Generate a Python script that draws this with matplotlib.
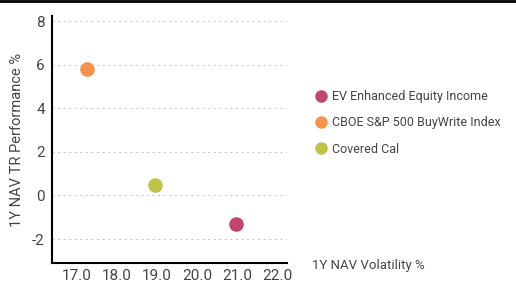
import matplotlib
matplotlib.use('Agg')
import matplotlib.pyplot as plt
from matplotlib.lines import Line2D

names = ['EV Enhanced Equity Income', 'CBOE S&P 500 BuyWrite Index', 'Covered Cal']
vol = [20.97, 17.25, 18.95]
perf = [-1.33, 5.82, 0.47]
colors = ['#c2456d', '#f7924e', '#bec348']
yticks = [-2, 0, 2, 4, 6, 8]
xticks = [17.0, 18.0, 19.0, 20.0, 21.0, 22.0]

plt.rcParams['font.family'] = ['Roboto', 'DejaVu Sans']
txt = '#444444'

fig = plt.figure(figsize=(5.16, 2.86), dpi=100)
ax = fig.add_axes([52/516, 1-263/286, (287-52)/516, (263-16)/286])
for x, y, c in zip(vol, perf, colors):
    ax.scatter(x, y, s=110, color=c, zorder=3, linewidths=0)
ax.set_xlim(16.38, 22.25)
ax.set_ylim(-3.1, 8.23)
ax.set_yticks(yticks)
ax.set_yticklabels([str(v) for v in yticks])
ax.set_xticks(xticks)
ax.set_xticklabels(['%.1f' % v for v in xticks])
ax.tick_params(labelsize=11, colors=txt, length=0, pad=5)
ax.tick_params(axis='x', length=0, pad=4)
ax.yaxis.grid(True, ls=(0, (2, 3)), color='#cccccc', lw=0.8)
for s in ['top', 'right']:
    ax.spines[s].set_visible(False)
ax.spines['left'].set_lw(1.5)
ax.spines['bottom'].set_lw(1.5)
ax.set_ylabel('1Y NAV TR Performance %', fontsize=10.5, color=txt, labelpad=6)
fig.text(312/516, 1-266/286, '1Y NAV Volatility %', fontsize=9.5, color=txt, va='center')

handles = [Line2D([], [], ls='', marker='o', ms=8, mfc=c, mec=c) for c in colors]
fig.legend(handles, names, loc='center left', bbox_to_anchor=(302/516, 1-123/286),
           frameon=False, fontsize=9, labelcolor=txt, handletextpad=0.3,
           labelspacing=1.05, handlelength=1.2)

fig.add_artist(Line2D([0, 1], [0.998, 0.998], color='black', lw=2, transform=fig.transFigure))
fig.savefig('out.png', dpi=100)
